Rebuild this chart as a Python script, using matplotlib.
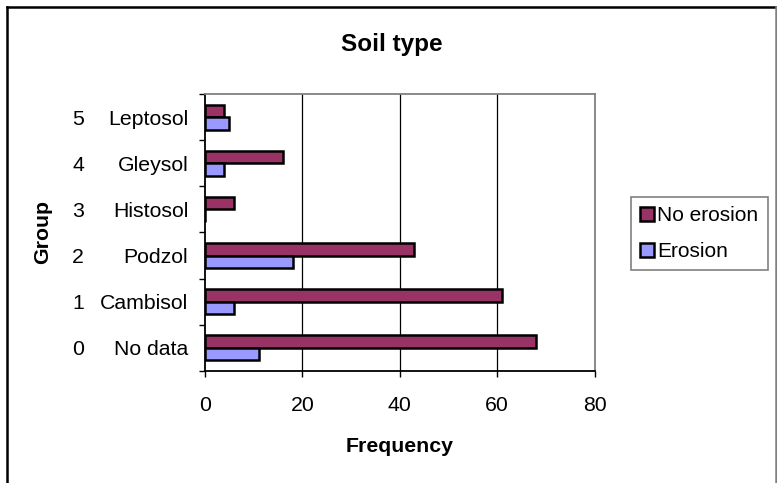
import matplotlib
matplotlib.use("Agg")
import matplotlib.pyplot as plt
import matplotlib.transforms as mtransforms
from matplotlib.lines import Line2D
from matplotlib.patches import Patch
import numpy as np

groups = [0, 1, 2, 3, 4, 5]
soils = ["No data", "Cambisol", "Podzol", "Histosol", "Gleysol", "Leptosol"]
no_erosion = [68, 61, 43, 6, 16, 4]
erosion = [11, 6, 18, 0, 4, 5]

plt.rcParams["font.family"] = ["Liberation Sans", "DejaVu Sans"]
fs = 15.3

fig = plt.figure(figsize=(7.77, 4.83), dpi=100)
ax = fig.add_axes([205 / 777, 1 - 371 / 483, 389.5 / 777, 277 / 483])

y = np.arange(len(groups))
h = 0.27
ax.barh(y + 0.135, no_erosion, height=h, color="#993366", edgecolor="black", linewidth=1.8, zorder=3)
ax.barh(y - 0.135, erosion, height=h, color="#9999FF", edgecolor="black", linewidth=1.8, zorder=3)

ax.set_xlim(0, 80)
ax.set_ylim(-0.5, 5.5)
ax.set_xticks([0, 20, 40, 60, 80])
ax.tick_params(axis="x", direction="out", length=4, width=1, pad=14, labelsize=fs)
ax.set_yticks(y)
ax.set_yticklabels(soils, fontsize=fs)
ax.tick_params(axis="y", which="major", length=0, pad=12)
ax.set_yticks(np.arange(-0.5, 6, 1), minor=True)
ax.tick_params(axis="y", which="minor", direction="out", length=4, width=1)

for v in [20, 40, 60]:
    ax.axvline(v, color="black", linewidth=0.9, zorder=1)

ax.spines["left"].set_color("black")
ax.spines["bottom"].set_color("black")
ax.spines["top"].set_color("#808080")
ax.spines["right"].set_color("#808080")
for s in ax.spines.values():
    s.set_linewidth(1.3)

# group numbers beside the soil names
trans = mtransforms.blended_transform_factory(fig.transFigure, ax.transData)
for g, yy in zip(groups, y):
    fig.text(78 / 777, yy, str(g), transform=trans, ha="center", va="center_baseline", fontsize=fs)

fig.text(392 / 777, 1 - 44 / 483, "Soil type", ha="center", va="center", fontsize=17.5, fontweight="bold")
fig.text(400 / 777, 1 - 447 / 483, "Frequency", ha="center", va="center", fontsize=fs, fontweight="bold")
fig.text(43 / 777, 1 - 232 / 483, "Group", ha="center", va="center", rotation=90, fontsize=fs, fontweight="bold")

handles = [Patch(facecolor="#993366", edgecolor="black", linewidth=1.8),
           Patch(facecolor="#9999FF", edgecolor="black", linewidth=1.8)]
leg = fig.legend(handles, ["No erosion", "Erosion"], loc="upper left",
                 bbox_to_anchor=(631 / 777, 1 - 197 / 483), fontsize=15,
                 handlelength=0.65, handleheight=0.65, handletextpad=0.15,
                 borderpad=0.45, labelspacing=0.8, fancybox=False, framealpha=1,
                 borderaxespad=0)
leg.get_frame().set_edgecolor("#808080")
leg.get_frame().set_linewidth(1.2)

# chart border
fig.add_artist(Line2D([6.5 / 777, 6.5 / 777], [0, 1 - 6.5 / 483], transform=fig.transFigure, color="black", lw=1.8))
fig.add_artist(Line2D([6.5 / 777, 776 / 777], [1 - 6.5 / 483, 1 - 6.5 / 483], transform=fig.transFigure, color="black", lw=1.8))
fig.add_artist(Line2D([776 / 777, 776 / 777], [0, 1 - 6.5 / 483], transform=fig.transFigure, color="#808080", lw=1.8))

fig.savefig("out.png", dpi=100)
